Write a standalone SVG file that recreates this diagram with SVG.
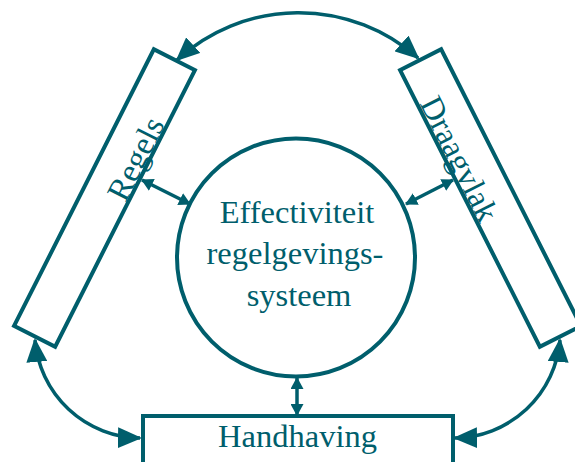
<svg xmlns="http://www.w3.org/2000/svg" width="575" height="462" viewBox="0 0 575 462">
<style>
.shape{fill:#ffffff;stroke:#005e6c;stroke-width:4}
.lbl{font-family:"Liberation Serif","Times New Roman",serif;font-size:32.5px;fill:#005e6c;text-anchor:middle}
.conn{fill:none;stroke:#005e6c;stroke-width:3.5}
.big{marker-start:url(#ah);marker-end:url(#ah)}
.small{marker-start:url(#as);marker-end:url(#as)}
</style>
<defs>
<marker id="ah" markerUnits="userSpaceOnUse" markerWidth="24" markerHeight="21" viewBox="0 0 24 21" refX="22" refY="10.5" orient="auto-start-reverse"><path d="M0,0 L24,10.5 L0,21 Z" fill="#005e6c"/></marker>
<marker id="as" markerUnits="userSpaceOnUse" markerWidth="12" markerHeight="13" viewBox="0 0 12 13" refX="11" refY="6.5" orient="auto-start-reverse"><path d="M0,0 L12,6.5 L0,13 Z" fill="#005e6c"/></marker>
</defs>
<g id="handhaving">
<rect class="shape" x="143" y="416" width="310" height="70"/>
<text class="lbl" x="297.5" y="447">Handhaving</text>
</g>
<g id="regels" transform="translate(104.5,198) rotate(-63.2)">
<rect class="shape" x="-155" y="-23" width="310" height="46"/>
<text class="lbl" x="49" y="21">Regels</text>
</g>
<g id="draagvlak" transform="translate(490.5,198) rotate(63.2)">
<rect class="shape" x="-155" y="-23" width="310" height="46"/>
<text class="lbl" x="-49" y="21">Draagvlak</text>
</g>
<g id="effectiviteit">
<circle class="shape" cx="296" cy="257.5" r="119"/>
<text class="lbl" x="297" y="223">Effectiviteit</text>
<text class="lbl" x="295" y="264">regelgevings-</text>
<text class="lbl" x="299" y="306">systeem</text>
</g>
<g id="connectors">
<path class="conn big" d="M177,60 A180 180 0 0 1 418,58"/>
<path class="conn big" d="M35,340 A107 107 0 0 0 140,438"/>
<path class="conn big" d="M560,340 A107 107 0 0 1 455,438"/>
<path class="conn small" d="M142,180 L190,204"/>
<path class="conn small" d="M453,180 L406,204"/>
<path class="conn small" d="M297,378 L297,415"/>
</g>
</svg>
